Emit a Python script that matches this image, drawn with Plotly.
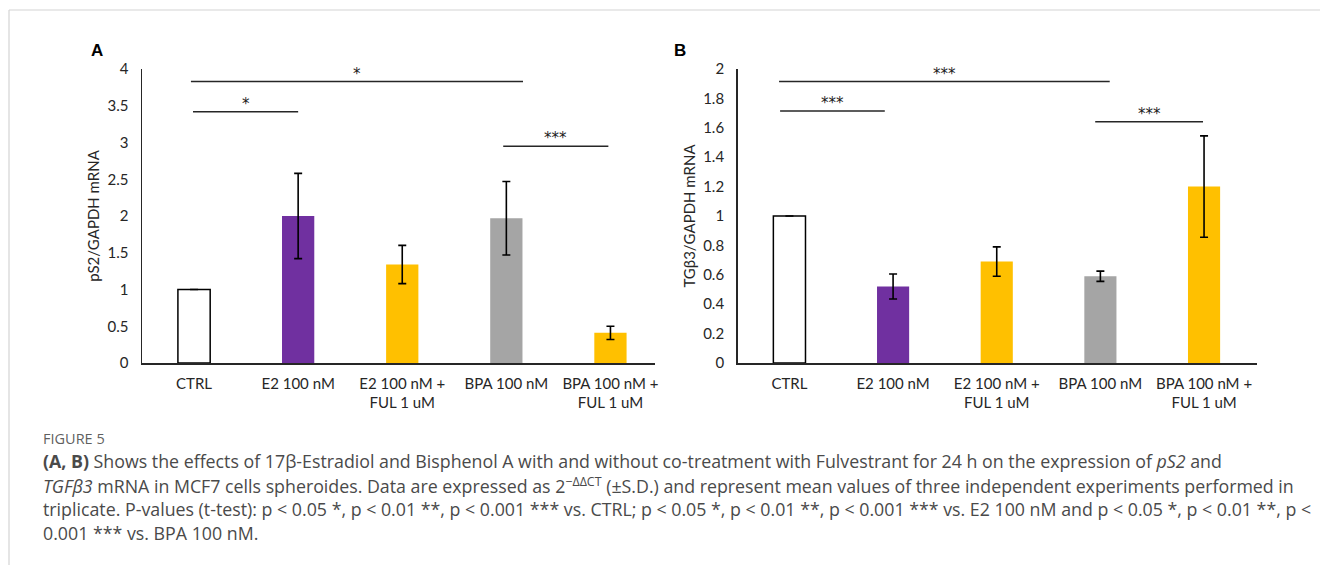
import plotly.graph_objects as go

# ---------------- data ----------------
categories = ["CTRL", "E2 100 nM", "E2 100 nM +<br>FUL 1 uM", "BPA 100 nM", "BPA 100 nM +<br>FUL 1 uM"]
bar_colors = ["#FFFFFF", "#7030A0", "#FFC000", "#A5A5A5", "#FFC000"]

ps2_mean = [1.0, 2.0, 1.34, 1.97, 0.41]
ps2_sd = [0.0, 0.58, 0.26, 0.50, 0.09]

tgb3_mean = [1.0, 0.52, 0.69, 0.59, 1.20]
tgb3_sd = [0.0, 0.085, 0.10, 0.035, 0.345]

ps2_ticks = [0, 0.5, 1, 1.5, 2, 2.5, 3, 3.5, 4]
tgb3_ticks = [0, 0.2, 0.4, 0.6, 0.8, 1, 1.2, 1.4, 1.6, 1.8, 2]

# significance brackets: (x start, x end, y level, label)
ps2_sig_x0 = [-0.03, -0.01, 2.97]
ps2_sig_x1 = [3.16, 1.0, 3.98]
ps2_sig_y = [3.83, 3.42, 2.95]
ps2_sig_lab = ["*", "*", "***"]

tgb3_sig_x0 = [-0.10, -0.09, 2.95]
tgb3_sig_x1 = [3.09, 0.92, 3.99]
tgb3_sig_y = [1.915, 1.715, 1.642]
tgb3_sig_lab = ["***", "***", "***"]

W, H = 1320, 565
FONT = "Lato"
AXC = "#262626"

fig = go.Figure()

x_idx = list(range(len(categories)))
line_w = [1.5 if c == "#FFFFFF" else 0 for c in bar_colors]

for xa, ya, means, sds in (("x", "y", ps2_mean, ps2_sd), ("x2", "y2", tgb3_mean, tgb3_sd)):
    fig.add_trace(go.Bar(
        x=x_idx, y=means, xaxis=xa, yaxis=ya, width=0.31,
        marker=dict(color=bar_colors, line=dict(color="#000000", width=line_w)),
        error_y=dict(type="data", array=sds, visible=True, color="#000000", thickness=1.6, width=4),
        showlegend=False, hoverinfo="skip",
    ))

ydom = [1 - 363 / H, 1 - 69 / H]
common_x = dict(tickmode="array", tickvals=x_idx, ticktext=categories, showline=True,
                linecolor=AXC, linewidth=1.5, showgrid=False, zeroline=False, ticks="",
                tickfont=dict(family=FONT, size=15, color="#262626"), ticklabelstandoff=6,
                automargin=False, fixedrange=True)
common_y = dict(showline=True, linecolor=AXC, linewidth=1.5, showgrid=False, zeroline=False,
                ticks="", tickfont=dict(family=FONT, size=15, color="#262626"),
                ticklabelstandoff=9, domain=ydom, tickmode="array", automargin=False,
                fixedrange=True)

fig.update_layout(
    width=W, height=H, autosize=False, margin=dict(l=0, r=0, t=0, b=0, pad=0),
    paper_bgcolor="white", plot_bgcolor="white", bargap=0,
    xaxis=dict(domain=[142 / W, 655 / W], range=[-0.5, 4.428], anchor="y", **common_x),
    xaxis2=dict(domain=[737.6 / W, 1256.5 / W], range=[-0.5, 4.506], anchor="y2", **common_x),
    yaxis=dict(range=[0, 4], anchor="x", tickvals=ps2_ticks,
               ticktext=[f"{v:g}" for v in ps2_ticks],
               title=dict(text="pS2/GAPDH mRNA", font=dict(family=FONT, size=15, color="#262626"), standoff=4),
               **common_y),
    yaxis2=dict(range=[0, 2], anchor="x2", tickvals=tgb3_ticks,
                ticktext=[f"{v:g}" for v in tgb3_ticks],
                title=dict(text="TGβ3/GAPDH mRNA", font=dict(family=FONT, size=15, color="#262626"), standoff=4),
                **common_y),
)

shapes = []
annotations = []
for xr, yr, x0s, x1s, ys, labs in (("x", "y", ps2_sig_x0, ps2_sig_x1, ps2_sig_y, ps2_sig_lab),
                                  ("x2", "y2", tgb3_sig_x0, tgb3_sig_x1, tgb3_sig_y, tgb3_sig_lab)):
    for x0, x1, yv, lab in zip(x0s, x1s, ys, labs):
        shapes.append(dict(type="line", xref=xr, yref=yr, x0=x0, x1=x1, y0=yv, y1=yv,
                           line=dict(color="#262626", width=1.5)))
        annotations.append(dict(xref=xr, yref=yr, x=(x0 + x1) / 2, y=yv, text=lab, showarrow=False,
                                yanchor="bottom", yshift=-3,
                                font=dict(family="DejaVu Sans", size=15, color="#1a1a1a")))

# frame lines
shapes.append(dict(type="line", xref="paper", yref="paper", x0=9 / W, x1=1, y0=1 - 10 / H, y1=1 - 10 / H,
                   line=dict(color="#d4d4d4", width=1.2)))
shapes.append(dict(type="line", xref="paper", yref="paper", x0=9 / W, x1=9 / W, y0=0, y1=1 - 10 / H,
                   line=dict(color="#d4d4d4", width=1.2)))

# panel letters
for lab, xp in (("A", 97), ("B", 680)):
    annotations.append(dict(xref="paper", yref="paper", x=xp / W, y=1 - 50 / H, text=f"<b>{lab}</b>",
                            showarrow=False, xanchor="center", yanchor="middle",
                            font=dict(family="Liberation Sans", size=17, color="#000000")))

# caption
CAP_X = 41
annotations.append(dict(xref="paper", yref="paper", x=CAP_X / W, y=1 - 438 / H, text="FIGURE 5",
                        showarrow=False, xanchor="left", yanchor="middle",
                        font=dict(family="Open Sans", size=14.5, color="#5f5f5f")))
caption_lines = [
    "<b>(A, B)</b> Shows the effects of 17β-Estradiol and Bisphenol A with and without co-treatment with Fulvestrant for 24 h on the expression of <i>pS2</i> and",
    "<i>TGFβ3</i> mRNA in MCF7 cells spheroides. Data are expressed as 2<sup>−ΔΔCT</sup> (±S.D.) and represent mean values of three independent experiments performed in",
    "triplicate. P-values (t-test): p &lt; 0.05 *, p &lt; 0.01 **, p &lt; 0.001 *** vs. CTRL; p &lt; 0.05 *, p &lt; 0.01 **, p &lt; 0.001 *** vs. E2 100 nM and p &lt; 0.05 *, p &lt; 0.01 **, p &lt;",
    "0.001 *** vs. BPA 100 nM.",
]
for i, ln in enumerate(caption_lines):
    annotations.append(dict(xref="paper", yref="paper", x=CAP_X / W, y=1 - (461 + 24 * i) / H, text=ln,
                            showarrow=False, xanchor="left", yanchor="middle",
                            font=dict(family="Open Sans", size=17.8, color="#4a4a4a")))

fig.update_layout(shapes=shapes, annotations=annotations)
fig.write_html("out.html", config={"displayModeBar": False, "staticPlot": True},
               post_script="document.body.style.margin='0';document.body.style.overflow='hidden';")
